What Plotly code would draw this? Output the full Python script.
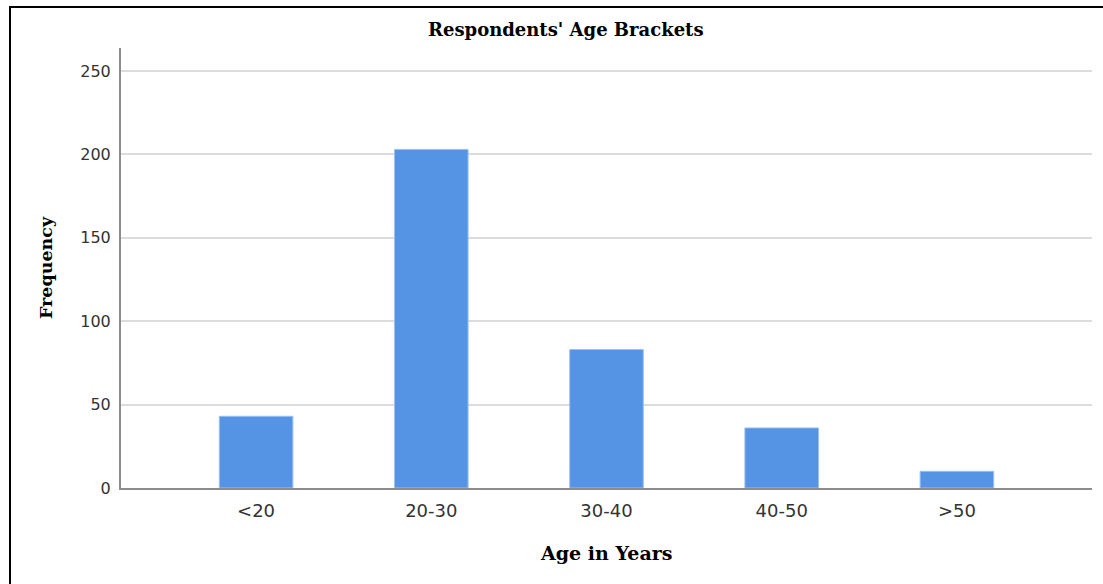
import plotly.graph_objects as go

categories = ["<20", "20-30", "30-40", "40-50", ">50"]
frequency = [43, 203, 83, 36, 10]
y_ticks = [0, 50, 100, 150, 200, 250]

W, H = 1103, 584
L, R, T, B = 121, 1092, 48, 488

def px(x):
    return (x - L) / (R - L)

def py(y):
    return (B - y) / (B - T)

fig = go.Figure()
fig.add_trace(go.Bar(
    x=list(range(len(categories))), y=frequency, width=0.42,
    marker=dict(color="#5594e4", line=dict(color="#9cc0ef", width=1)),
    hoverinfo="x+y",
))

serif = "DejaVu Serif, serif"
sans = "DejaVu Sans, Verdana, sans-serif"

fig.update_layout(
    width=W, height=H,
    margin=dict(l=L, r=W - R, t=T, b=H - B, pad=0),
    paper_bgcolor="white", plot_bgcolor="white",
    showlegend=False,
    xaxis=dict(
        range=[-0.771, 4.771], tickmode="array",
        tickvals=list(range(len(categories))), ticktext=categories,
        showgrid=False, zeroline=False, showline=True, linecolor="#8c8c8c", linewidth=2,
        ticks="", ticklabelstandoff=5,
        tickfont=dict(family=sans, size=18, color="#333333"),
    ),
    yaxis=dict(
        range=[0, 263.8], tickmode="array", tickvals=y_ticks,
        showgrid=True, gridcolor="#dcdcdc", gridwidth=2,
        zeroline=False, showline=True, linecolor="#8c8c8c", linewidth=2,
        ticks="", ticklabelstandoff=5,
        tickfont=dict(family=sans, size=16, color="#333333"),
    ),
    annotations=[
        dict(text="<b>Respondents' Age Brackets</b>", x=px(566), y=py(30), xref="paper", yref="paper",
             showarrow=False, xanchor="center", yanchor="middle",
             font=dict(family=serif, size=18, color="black")),
        dict(text="<b>Frequency</b>", x=px(46), y=py(268), xref="paper", yref="paper",
             showarrow=False, xanchor="center", yanchor="middle", textangle=-90,
             font=dict(family=serif, size=17.5, color="black")),
        dict(text="<b>Age in Years</b>", x=px(606), y=py(553), xref="paper", yref="paper",
             showarrow=False, xanchor="center", yanchor="middle",
             font=dict(family=serif, size=19, color="black")),
    ],
    shapes=[
        dict(type="rect", xref="paper", yref="paper",
             x0=px(10), x1=px(1120), y0=py(7), y1=py(620),
             line=dict(color="black", width=2), fillcolor="rgba(0,0,0,0)", layer="above"),
    ],
)

fig.write_html("out.html")
